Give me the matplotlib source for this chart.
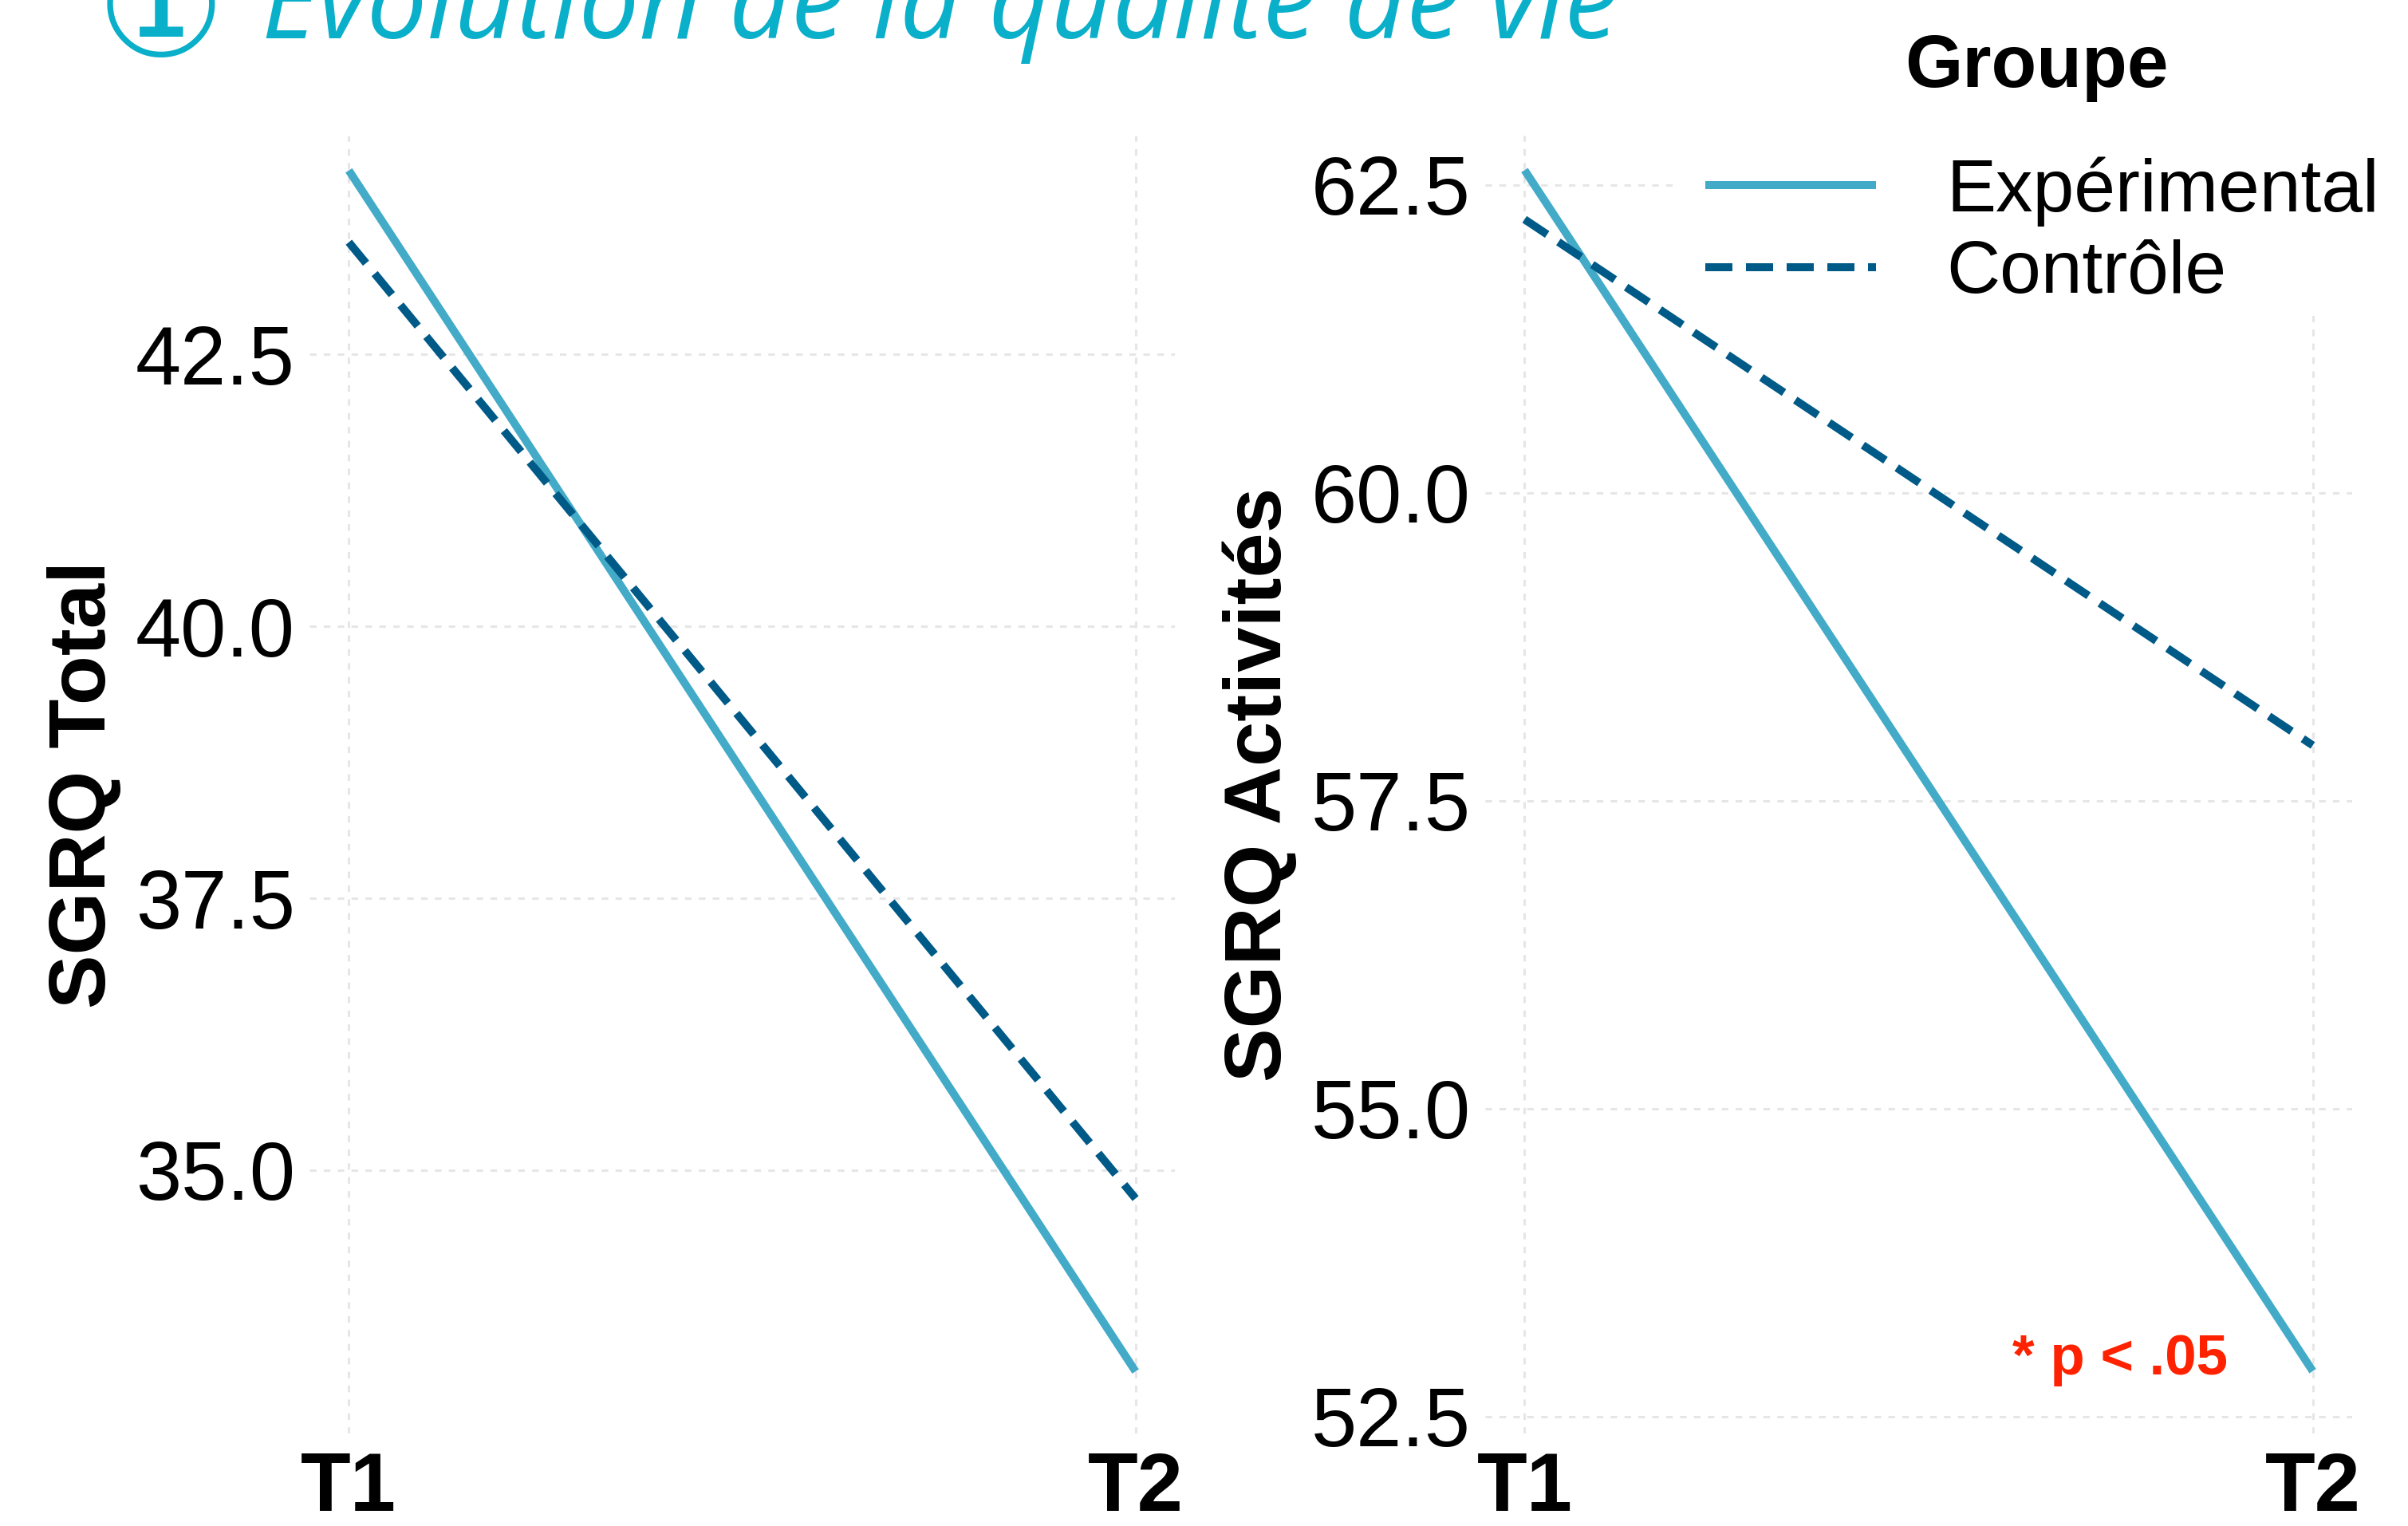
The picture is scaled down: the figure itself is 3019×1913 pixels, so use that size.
import matplotlib
matplotlib.use("Agg")
import matplotlib.pyplot as plt
from matplotlib.lines import Line2D
from matplotlib.patches import Rectangle


# data
times = ["T1", "T2"]
groups = ["Expérimental", "Contrôle"]
total_exp = [44.19, 33.15]
total_ctrl = [43.53, 34.74]
activ_exp = [62.62, 52.87]
activ_ctrl = [62.22, 57.95]
total_ticks = [35.0, 37.5, 40.0, 42.5]
activ_ticks = [52.5, 55.0, 57.5, 60.0, 62.5]

COL_EXP = "#43ABC8"
COL_CTRL = "#005A87"
COL_TITLE = "#0AAFC9"
COL_GRID = "#E6E6E6"
FONT = "Liberation Sans"

W, H = 3019, 1913
plt.rcParams["font.family"] = [FONT, "DejaVu Sans"]


def fx(px):
    return px / W


def fy(py):
    return 1 - py / H


def style_panel(ax, ylabel, yticks, ylim):
    ax.set_xlim(-0.05, 1.05)
    ax.set_ylim(*ylim)
    ax.set_xticks(range(len(times)), times)
    ax.set_yticks(yticks, [f"{v:.1f}" for v in yticks])
    ax.tick_params(axis="both", length=0)
    ax.tick_params(axis="y", labelsize=74, pad=13)
    ax.tick_params(axis="x", labelsize=74, pad=16)
    for lab in ax.get_xticklabels():
        lab.set_fontweight("bold")
    for s in ax.spines.values():
        s.set_visible(False)
    ax.grid(True, color=COL_GRID, linestyle=(0, (2.7, 3.0)), linewidth=2.2)
    ax.set_axisbelow(True)
    ax.set_ylabel(ylabel, fontsize=73, fontweight="bold", labelpad=12)


def draw_lines(ax, exp_vals, ctrl_vals):
    x = list(range(len(times)))
    ax.plot(x, exp_vals, color=COL_EXP, lw=7.2, solid_capstyle="butt")
    ax.plot(x, ctrl_vals, color=COL_CTRL, lw=7.2, linestyle=(0, (3.4, 1.7)),
            dash_capstyle="butt")


fig = plt.figure(figsize=(W / 100, H / 100), dpi=100)

ax1 = fig.add_axes([fx(388), fy(1797), (1473 - 388) / W, (1797 - 170) / H])
ax2 = fig.add_axes([fx(1862), fy(1797), (2949 - 1862) / W, (1797 - 170) / H])

draw_lines(ax1, total_exp, total_ctrl)
style_panel(ax1, "SGRQ Total", total_ticks, (32.58, 44.51))

draw_lines(ax2, activ_exp, activ_ctrl)
style_panel(ax2, "SGRQ Activités", activ_ticks, (52.364, 62.90))
ax2.text(0.892, 52.84, "* p < .05", color="#FF2200", fontsize=51,
         fontweight="bold", ha="right", va="baseline")

# white box behind the legend (hides grid there, like the original)
fig.patches.append(Rectangle((fx(2098), fy(393)), (W - 2098) / W, 393 / H,
                             transform=fig.transFigure, facecolor="white",
                             edgecolor="none", zorder=1))

handles = [Line2D([], [], color=COL_EXP, lw=7.2, solid_capstyle="butt"),
           Line2D([], [], color=COL_CTRL, lw=7.2, linestyle=(0, (3.4, 1.7)),
                  dash_capstyle="butt")]
leg = fig.legend(handles, groups, loc="upper left",
                 bbox_to_anchor=(fx(2138), fy(196)), bbox_transform=fig.transFigure,
                 frameon=False, fontsize=67, borderpad=0, borderaxespad=0,
                 handlelength=2.3, handletextpad=0.95, labelspacing=0.18)
leg.set_zorder(5)
fig.text(fx(2553), fy(109), "Groupe", fontsize=67, fontweight="bold",
         ha="center", va="baseline", zorder=6)

# title, clipped at the top edge like the source image
fig.text(fx(202), fy(70), "\u2460", fontsize=130, color=COL_TITLE,
         family="DejaVu Sans", ha="center", va="baseline")
fig.text(fx(328), fy(48), "Évolution de la qualité de vie", fontsize=97,
         color=COL_TITLE, style="italic", family=["Open Sans", "DejaVu Sans"],
         ha="left", va="baseline")

fig.savefig("out.png", dpi=100)
